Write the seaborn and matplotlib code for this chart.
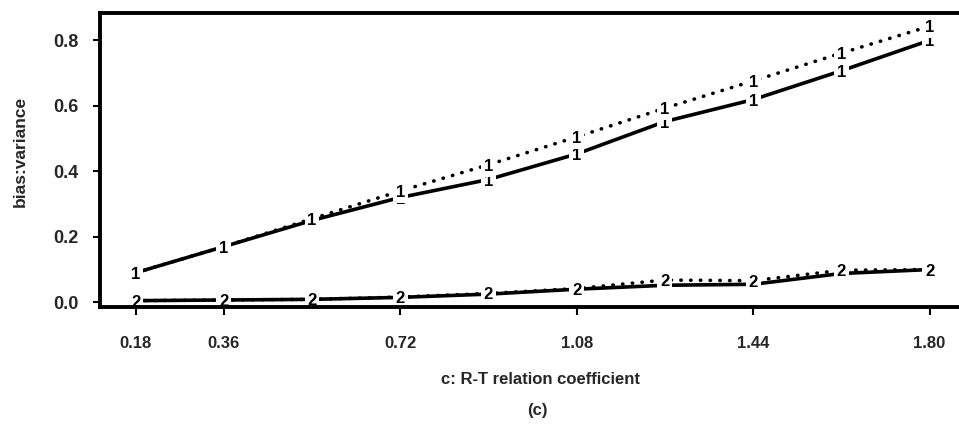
import matplotlib
matplotlib.use("Agg")
import matplotlib.pyplot as plt
import numpy as np
import pandas as pd
import seaborn as sns

# R-T relation coefficient c and the bias:variance ratio of each estimator
c_values = [0.18, 0.36, 0.54, 0.72, 0.90, 1.08, 1.26, 1.44, 1.62, 1.80]
c_ticks = [0.18, 0.36, 0.72, 1.08, 1.44, 1.80]
y_ticks = [0.0, 0.2, 0.4, 0.6, 0.8]

ratio1_solid = [0.09, 0.17, 0.25, 0.32, 0.375, 0.453, 0.552, 0.619, 0.707, 0.800]
ratio1_dotted = [0.09, 0.17, 0.255, 0.34, 0.420, 0.505, 0.593, 0.676, 0.761, 0.843]
ratio2_solid = [0.005, 0.007, 0.009, 0.015, 0.025, 0.040, 0.052, 0.055, 0.088, 0.100]
ratio2_dotted = [0.005, 0.007, 0.009, 0.016, 0.027, 0.042, 0.068, 0.066, 0.098, 0.100]

series = [
    ("1", "solid", ratio1_solid),
    ("1", "dotted", ratio1_dotted),
    ("2", "solid", ratio2_solid),
    ("2", "dotted", ratio2_dotted),
]

frames = []
for curve, kind, vals in series:
    frames.append(pd.DataFrame({"c": c_values, "ratio": vals,
                                "curve": curve, "kind": kind}))
df = pd.concat(frames, ignore_index=True)

sns.set_theme(style="white")
plt.rcParams["font.family"] = ["Liberation Sans", "DejaVu Sans"]

fig = plt.figure(figsize=(9.59, 4.28), dpi=100)
ax = fig.add_axes([0.104, 0.283, 0.896, 0.687])
ax.set_axisbelow(False)

sns.lineplot(data=df, x="c", y="ratio", hue="curve", style="kind",
             palette=["black", "black"],
             dashes={"solid": "", "dotted": (0.1, 2.6)},
             estimator=None, linewidth=2.6, legend=False, ax=ax)
for line in ax.get_lines():
    line.set_dash_capstyle("round")
    line.set_solid_capstyle("round")

# curve numbers at each point, with a white gap around them
for curve, kind, vals in series:
    for x, y in zip(c_values, vals):
        ax.text(x, y, curve, ha="center", va="center_baseline",
                fontsize=12, fontweight="bold", color="black", zorder=2.3,
                bbox=dict(facecolor="white", edgecolor="none", pad=2.0))

ax.set_xlim(0.107, 1.86)
ax.set_ylim(-0.014, 0.884)
ax.set_xticks(c_ticks)
ax.set_xticklabels([f"{v:.2f}" for v in c_ticks])
ax.set_yticks(y_ticks)
ax.set_yticklabels([f"{v:.1f}" for v in y_ticks])

for side in ["left", "top", "bottom"]:
    ax.spines[side].set_visible(True)
    ax.spines[side].set_linewidth(2.8)
    ax.spines[side].set_color("black")
    ax.spines[side].set_zorder(3)
ax.spines["right"].set_visible(False)

ax.tick_params(axis="x", bottom=True, direction="out", length=6, width=1.5,
               color="black", pad=15, labelsize=12)
ax.tick_params(axis="y", left=True, direction="out", length=5, width=1.5,
               color="black", pad=10, labelsize=13)
for lab in ax.get_xticklabels() + ax.get_yticklabels():
    lab.set_fontweight("bold")

ax.set_xlabel("c: R-T relation coefficient", fontsize=12, fontweight="bold")
ax.xaxis.set_label_coords(0.513, -0.221)
ax.set_ylabel("bias:variance", fontsize=12.5, fontweight="bold")
ax.yaxis.set_label_coords(-0.084, 0.527)

fig.text(537 / 959, 1 - 410 / 428, "(c)", ha="center", va="center",
         fontsize=12, fontweight="bold")

fig.savefig("out.png", dpi=100, facecolor="white")
